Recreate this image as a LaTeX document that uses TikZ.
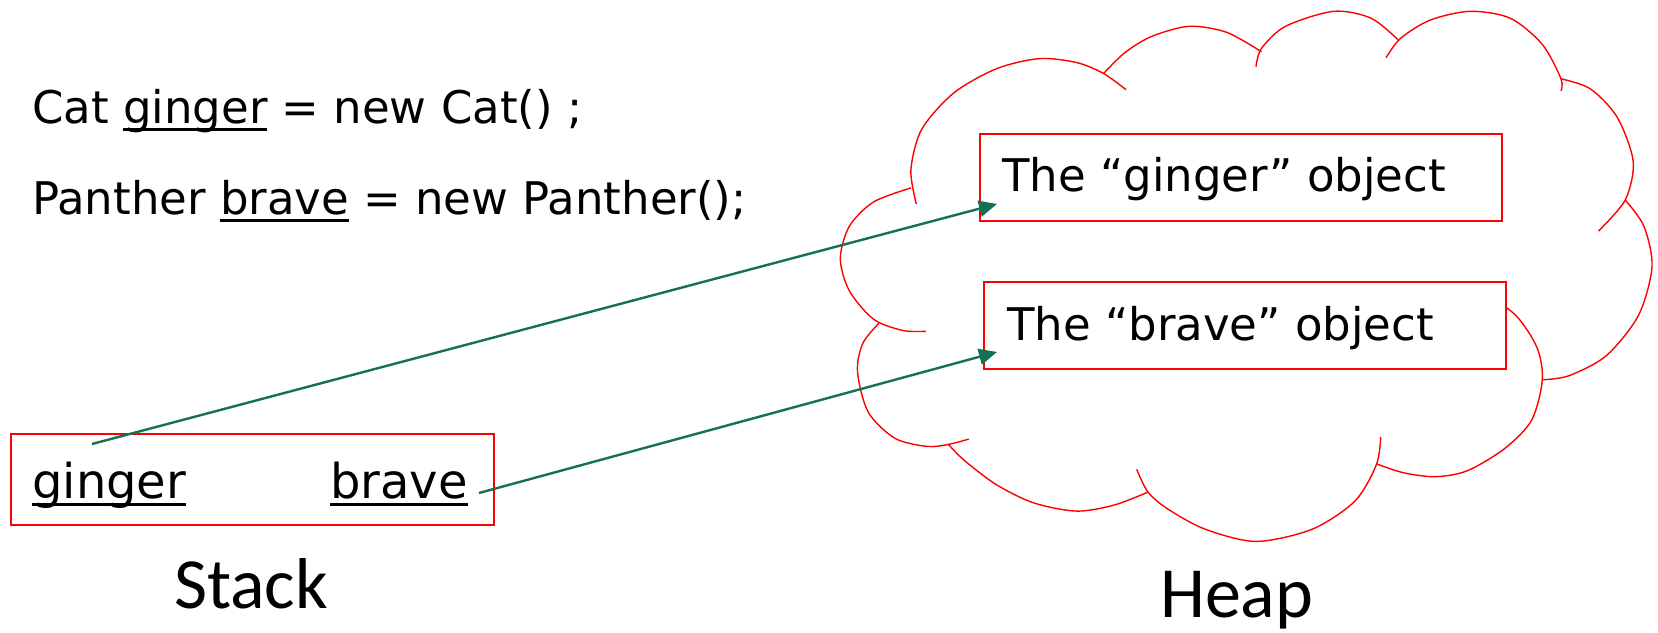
\documentclass[tikz,border=0pt]{standalone}
\usepackage{fontspec}
\usetikzlibrary{arrows.meta}
\newfontfamily\codefont{DejaVu Sans}
\newfontfamily\labelfont{Carlito}
\definecolor{heapred}{RGB}{255,0,0}
\definecolor{arrowgreen}{RGB}{22,112,84}
\newcommand\myul[2][7bp]{\setbox0\hbox{#2}\rlap{\rule[-#1]{\wd0}{3bp}}\box0\relax}
\tikzset{
  codetext/.style={anchor=base west, inner sep=0pt, font=\codefont\fontsize{45bp}{50bp}\selectfont},
  stacktext/.style={anchor=base west, inner sep=0pt, font=\codefont\fontsize{48bp}{54bp}\selectfont},
  bigtext/.style={anchor=base west, inner sep=0pt, font=\labelfont\fontsize{72bp}{80bp}\selectfont},
  redbox/.style={draw=heapred, line width=1.8bp, inner sep=0pt},
  cloudline/.style={draw=heapred, line width=1.4bp},
  ptr/.style={draw=arrowgreen, line width=2.4bp, -{Triangle[length=18bp,width=16bp]}}
}
\begin{document}
\begin{tikzpicture}[x=1bp,y=-1bp]
\useasboundingbox (0,0) rectangle (1658,633);
% code lines
\node[codetext] (line1) at (32,124) {Cat \myul{ginger} = new Cat() ;};
\node[codetext] (line2) at (32,215) {Panther \myul{brave} = new Panther();};
% stack
\node[redbox, minimum width=483bp, minimum height=91bp] (stack) at (252.5,479.5) {};
\node[stacktext] (sginger) at (32,498) {\myul[8bp]{ginger}};
\node[stacktext] (sbrave) at (330,498) {\myul[8bp]{brave}};
\node[bigtext] (stacklabel) at (174,608) {Stack};
% cloud
\draw[cloudline] plot[smooth] coordinates {(916.3,204.0) (910.9,169.7) (921.7,129.3) (953.8,92.9) (996.6,68.7) (1039.4,58.6) (1076.8,62.6) (1103.6,73.5) (1126.0,89.7)};
\draw[cloudline] plot[smooth] coordinates {(1103.6,73.5) (1125.0,52.5) (1151.7,36.4) (1189.2,26.3) (1226.6,32.3) (1261.4,51.7)};
\draw[cloudline] plot[smooth] coordinates {(1256.0,66.7) (1261.4,48.5) (1285.5,26.3) (1333.6,11.3) (1371.1,18.2) (1397.8,39.6)};
\draw[cloudline] plot[smooth] coordinates {(1386.0,57.8) (1400.5,38.4) (1429.9,20.2) (1470.0,11.3) (1510.2,18.2) (1542.3,44.4) (1561.0,78.8) (1561.0,90.9)};
\draw[cloudline] plot[smooth] coordinates {(1561.0,78.8) (1590.4,88.9) (1617.2,117.2) (1633.2,161.6) (1625.2,200.0) (1598.4,231.1)};
\draw[cloudline] plot[smooth] coordinates {(1625.2,200.0) (1643.9,226.2) (1652.0,266.6) (1638.6,315.1) (1606.5,355.5) (1569.0,375.7) (1542.3,379.8)};
\draw[cloudline] plot[smooth] coordinates {(1481.8,291.7) (1515.5,315.1) (1536.9,347.4) (1542.3,379.8) (1531.6,420.2) (1504.8,448.4) (1467.4,470.7) (1435.3,476.7) (1403.2,472.7) (1376.4,463.8)};
\draw[cloudline] plot[smooth] coordinates {(1380.7,437.1) (1376.4,464.6) (1355.0,501.0) (1312.2,529.2) (1256.0,541.4) (1205.2,529.2) (1167.8,509.0) (1148.0,492.1) (1136.7,469.4)};
\draw[cloudline] plot[smooth] coordinates {(1148.0,492.1) (1114.3,505.0) (1076.8,511.1) (1034.0,503.0) (996.6,484.8) (964.5,460.6) (948.4,444.4)};
\draw[cloudline] plot[smooth] coordinates {(968.7,439.1) (948.4,444.4) (927.0,446.4) (894.9,438.3) (868.2,412.1) (857.5,371.7) (862.8,343.4) (878.9,323.2)};
\draw[cloudline] plot[smooth] coordinates {(925.9,331.3) (902.9,330.5) (873.5,319.2) (849.4,290.9) (840.3,258.6) (849.4,226.2) (873.5,202.0) (911.0,187.9)};
% heap objects
\node[redbox, fill=white, minimum width=522bp, minimum height=87bp] (gobj) at (1241,177.5) {};
\node[redbox, fill=white, minimum width=522bp, minimum height=87bp] (bobj) at (1245,325.5) {};
\node[codetext] (gobjtext) at (1002,192) {The “ginger” object};
\node[codetext] (bobjtext) at (1007,340) {The “brave” object};
\node[bigtext] (heaplabel) at (1160,617) {Heap};
% pointers
\coordinate (gfrom) at (92,444);
\coordinate (bfrom) at (479,493);
\coordinate (gto) at (997,204);
\coordinate (bto) at (997,352);
\draw[ptr] (gfrom) -- (gto);
\draw[ptr] (bfrom) -- (bto);
\end{tikzpicture}
\end{document}
